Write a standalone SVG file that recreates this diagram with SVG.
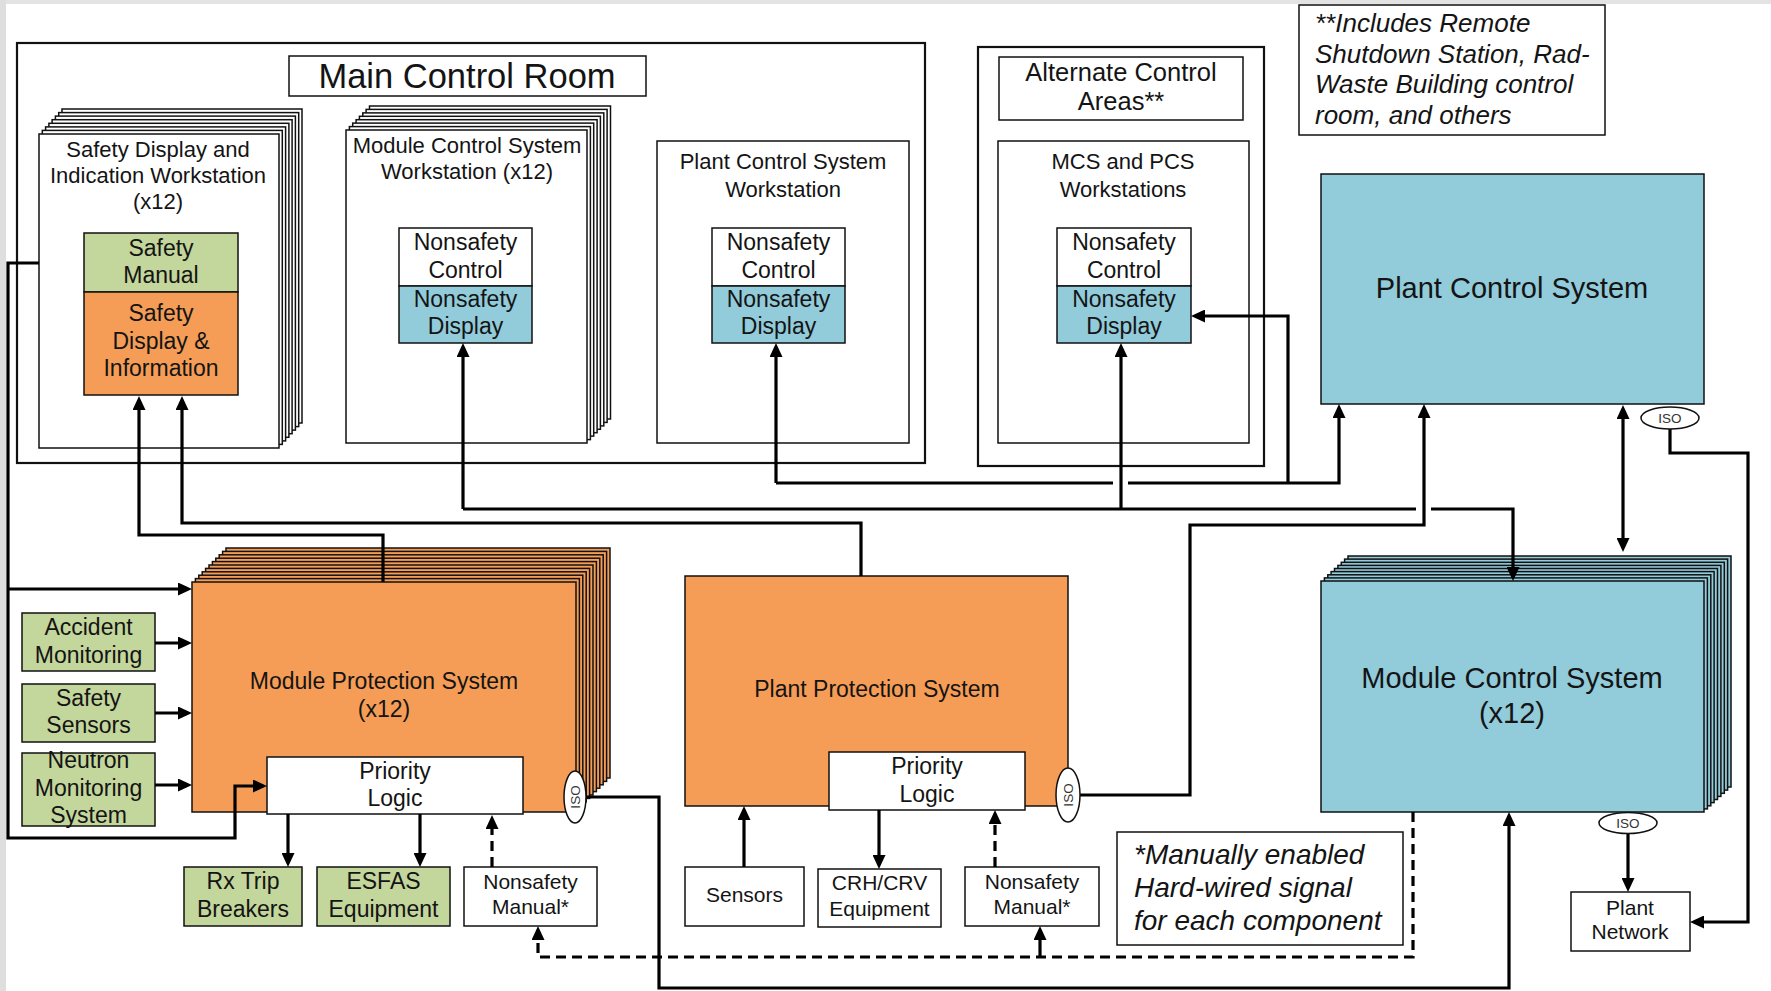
<svg xmlns="http://www.w3.org/2000/svg" width="1771" height="991" viewBox="0 0 1771 991">
<defs>
<style>
text{font-family:"Liberation Sans",Arial,Helvetica,sans-serif;fill:#141414;text-anchor:middle}
.f21{font-size:21px}.f22{font-size:22px}.f23{font-size:23px}.f25{font-size:25.5px}.f29{font-size:29px}.f34{font-size:34.5px}
.it{font-style:italic;text-anchor:start}
.bx{stroke:#111;stroke-width:1.5}
.w{fill:#fff}.g{fill:#c3d69b}.o{fill:#f59d56}.b{fill:#92cbda}
.area{fill:#fff;stroke:#111;stroke-width:2.2}
.ln{fill:none;stroke:#000;stroke-width:3.2}
.dash{stroke-dasharray:10 6}
.iso{fill:#fff;stroke:#111;stroke-width:1.5}
.isot{font-size:13.5px;fill:#333}
</style>
<marker id="ah" viewBox="0 0 14 13" refX="10" refY="6.5" markerWidth="14" markerHeight="13" markerUnits="userSpaceOnUse" orient="auto-start-reverse"><path d="M0,0 L14,6.5 L0,13 z" fill="#000"/></marker>
<rect id="lSws" width="240" height="314" class="bx w"/>
<rect id="lMws" width="241" height="313" class="bx w"/>
<rect id="lMps" width="384" height="230" class="bx o"/>
<rect id="lMcs" width="383" height="231" class="bx b"/>
</defs>
<rect x="0" y="0" width="1771" height="991" fill="#fff"/>
<rect x="0" y="0" width="1771" height="4" fill="#e3e3e3"/>
<rect x="0" y="0" width="6" height="991" fill="#dedede"/>

<g id="main-control-room">
<rect x="17" y="43" width="908" height="420" class="area"/>
<rect x="289" y="56" width="357" height="40" class="bx w"/>
<text x="467" y="88" class="f34">Main Control Room</text>
</g>

<g id="alternate-control-areas">
<rect x="978" y="47" width="286" height="419" class="area"/>
<rect x="999" y="57" width="244" height="63" class="bx w"/>
<text x="1121" y="81" class="f25">Alternate Control<tspan x="1121" dy="29">Areas**</tspan></text>
</g>

<g id="note-includes">
<rect x="1299" y="5" width="306" height="130" class="bx w"/>
<text x="1315" y="32" class="it" font-size="26">**Includes Remote<tspan x="1315" dy="30.5">Shutdown Station, Rad-</tspan><tspan x="1315" dy="30.5">Waste Building control</tspan><tspan x="1315" dy="30.5">room, and others</tspan></text>
</g>

<g id="safety-display-workstation">
<use href="#lSws" x="62" y="109"/><use href="#lSws" x="58.7" y="112.6"/><use href="#lSws" x="55.4" y="116.1"/><use href="#lSws" x="52.1" y="119.7"/><use href="#lSws" x="48.9" y="123.3"/><use href="#lSws" x="45.6" y="126.9"/><use href="#lSws" x="42.3" y="130.4"/><use href="#lSws" x="39" y="134"/>
<text x="158" y="157" class="f22">Safety Display and<tspan x="158" dy="26">Indication Workstation</tspan><tspan x="158" dy="26">(x12)</tspan></text>
<rect x="84" y="233" width="154" height="59" class="bx g"/>
<text x="161" y="256" class="f23">Safety<tspan x="161" dy="27">Manual</tspan></text>
<rect x="84" y="292" width="154" height="103" class="bx o"/>
<text x="161" y="321" class="f23">Safety<tspan x="161" dy="27.5">Display &amp;</tspan><tspan x="161" dy="27.5">Information</tspan></text>
</g>

<g id="mcs-workstation">
<use href="#lMws" x="369.5" y="106"/><use href="#lMws" x="366.1" y="109.4"/><use href="#lMws" x="362.8" y="112.9"/><use href="#lMws" x="359.4" y="116.3"/><use href="#lMws" x="356.1" y="119.7"/><use href="#lMws" x="352.7" y="123.1"/><use href="#lMws" x="349.4" y="126.6"/><use href="#lMws" x="346" y="130"/>
<text x="467" y="153" class="f22">Module Control System<tspan x="467" dy="26">Workstation (x12)</tspan></text>
<rect x="399" y="228" width="133" height="58" class="bx w"/>
<text x="465.5" y="250" class="f23">Nonsafety<tspan x="465.5" dy="28">Control</tspan></text>
<rect x="399" y="286" width="133" height="57" class="bx b"/>
<text x="465.5" y="307" class="f23">Nonsafety<tspan x="465.5" dy="27">Display</tspan></text>
</g>

<g id="pcs-workstation">
<rect x="657" y="141" width="252" height="302" class="bx w"/>
<text x="783" y="169" class="f22">Plant Control System<tspan x="783" dy="28">Workstation</tspan></text>
<rect x="712" y="228" width="133" height="58" class="bx w"/>
<text x="778.5" y="250" class="f23">Nonsafety<tspan x="778.5" dy="28">Control</tspan></text>
<rect x="712" y="286" width="133" height="57" class="bx b"/>
<text x="778.5" y="307" class="f23">Nonsafety<tspan x="778.5" dy="27">Display</tspan></text>
</g>

<g id="mcs-pcs-workstations">
<rect x="998" y="141" width="251" height="302" class="bx w"/>
<text x="1123" y="169" class="f22">MCS and PCS<tspan x="1123" dy="28">Workstations</tspan></text>
<rect x="1057" y="228" width="134" height="58" class="bx w"/>
<text x="1124" y="250" class="f23">Nonsafety<tspan x="1124" dy="28">Control</tspan></text>
<rect x="1057" y="286" width="134" height="57" class="bx b"/>
<text x="1124" y="307" class="f23">Nonsafety<tspan x="1124" dy="27">Display</tspan></text>
</g>

<g id="plant-control-system">
<rect x="1321" y="174" width="383" height="230" class="bx b"/>
<text x="1512" y="298" class="f29">Plant Control System</text>
</g>

<g id="module-protection-system">
<use href="#lMps" x="226" y="548"/><use href="#lMps" x="222.6" y="551.4"/><use href="#lMps" x="219.2" y="554.8"/><use href="#lMps" x="215.8" y="558.2"/><use href="#lMps" x="212.4" y="561.6"/><use href="#lMps" x="209" y="565"/><use href="#lMps" x="205.6" y="568.4"/><use href="#lMps" x="202.2" y="571.8"/><use href="#lMps" x="198.8" y="575.2"/><use href="#lMps" x="195.4" y="578.6"/><use href="#lMps" x="192" y="582"/>
<text x="384" y="689" class="f23">Module Protection System<tspan x="384" dy="28">(x12)</tspan></text>
</g>
<g id="mps-priority-logic">
<rect x="267" y="757" width="256" height="57" class="bx w"/>
<text x="395" y="779" class="f23">Priority<tspan x="395" dy="27">Logic</tspan></text>
</g>

<g id="plant-protection-system">
<rect x="685" y="576" width="383" height="230" class="bx o"/>
<text x="877" y="697" class="f23">Plant Protection System</text>
</g>
<g id="pps-priority-logic">
<rect x="829" y="752" width="196" height="58" class="bx w"/>
<text x="927" y="774" class="f23">Priority<tspan x="927" dy="28">Logic</tspan></text>
</g>

<g id="module-control-system">
<use href="#lMcs" x="1348" y="556"/><use href="#lMcs" x="1344.6" y="559.1"/><use href="#lMcs" x="1341.3" y="562.3"/><use href="#lMcs" x="1337.9" y="565.4"/><use href="#lMcs" x="1334.5" y="568.5"/><use href="#lMcs" x="1331.1" y="571.6"/><use href="#lMcs" x="1327.8" y="574.8"/><use href="#lMcs" x="1324.4" y="577.9"/><use href="#lMcs" x="1321" y="581"/>
<text x="1512" y="688" class="f29">Module Control System<tspan x="1512" dy="35">(x12)</tspan></text>
</g>

<g id="accident-monitoring">
<rect x="22" y="613" width="133" height="58" class="bx g"/>
<text x="88.5" y="635" class="f23">Accident<tspan x="88.5" dy="28">Monitoring</tspan></text>
</g>
<g id="safety-sensors">
<rect x="22" y="684" width="133" height="58" class="bx g"/>
<text x="88.5" y="706" class="f23">Safety<tspan x="88.5" dy="27">Sensors</tspan></text>
</g>
<g id="neutron-monitoring">
<rect x="22" y="753" width="133" height="73" class="bx g"/>
<text x="88.5" y="768" class="f23">Neutron<tspan x="88.5" dy="27.5">Monitoring</tspan><tspan x="88.5" dy="27.5">System</tspan></text>
</g>

<g id="rx-trip-breakers">
<rect x="184" y="867" width="118" height="59" class="bx g"/>
<text x="243" y="889" class="f23">Rx Trip<tspan x="243" dy="28">Breakers</tspan></text>
</g>
<g id="esfas-equipment">
<rect x="317" y="867" width="133" height="59" class="bx g"/>
<text x="383.5" y="889" class="f23">ESFAS<tspan x="383.5" dy="28">Equipment</tspan></text>
</g>
<g id="mps-nonsafety-manual">
<rect x="464" y="867" width="133" height="59" class="bx w"/>
<text x="530.5" y="889" class="f21">Nonsafety<tspan x="530.5" dy="25">Manual*</tspan></text>
</g>
<g id="sensors">
<rect x="685" y="867" width="119" height="59" class="bx w"/>
<text x="744.5" y="902" class="f21">Sensors</text>
</g>
<g id="crh-crv-equipment">
<rect x="818" y="869" width="123" height="58" class="bx w"/>
<text x="879.5" y="890" class="f21">CRH/CRV<tspan x="879.5" dy="26">Equipment</tspan></text>
</g>
<g id="pps-nonsafety-manual">
<rect x="965" y="867" width="134" height="59" class="bx w"/>
<text x="1032" y="889" class="f21">Nonsafety<tspan x="1032" dy="25">Manual*</tspan></text>
</g>
<g id="note-manual">
<rect x="1117" y="832" width="286" height="113" class="bx w"/>
<text x="1134" y="864" class="it" font-size="28">*Manually enabled<tspan x="1134" dy="33">Hard-wired signal</tspan><tspan x="1134" dy="33">for each component</tspan></text>
</g>
<g id="plant-network">
<rect x="1571" y="892" width="119" height="59" class="bx w"/>
<text x="1630" y="915" class="f21">Plant<tspan x="1630" dy="24">Network</tspan></text>
</g>

<g id="connectors">
<path class="ln" d="M39,263 H8 V838 H235 V786 H263" marker-end="url(#ah)"/>
<path class="ln" d="M8,589 H188" marker-end="url(#ah)"/>
<path class="ln" d="M383,582 V535 H139 V400" marker-end="url(#ah)"/>
<path class="ln" d="M861,576 V523 H182 V400" marker-end="url(#ah)"/>
<path class="ln" d="M463,509 V347" marker-end="url(#ah)"/>
<path class="ln" d="M463,509 H1416"/>
<path class="ln" d="M1431,509 H1513 V577" marker-end="url(#ah)"/>
<path class="ln" d="M1121,509 V347" marker-end="url(#ah)"/>
<path class="ln" d="M776,483 V347" marker-end="url(#ah)"/>
<path class="ln" d="M776,483 H1113"/>
<path class="ln" d="M1128,483 H1339 V408" marker-end="url(#ah)"/>
<path class="ln" d="M1288,483 V316 H1195" marker-end="url(#ah)"/>
<path class="ln" d="M1080,795 H1190 V525 H1424 V408" marker-end="url(#ah)"/>
<path class="ln" d="M1623,409 V548" marker-start="url(#ah)" marker-end="url(#ah)"/>
<path class="ln" d="M1670,428 V453 H1748 V922 H1694" marker-end="url(#ah)"/>
<path class="ln" d="M1628,833 V888" marker-end="url(#ah)"/>
<path class="ln" d="M586,797 H659 V988 H1509 V816" marker-end="url(#ah)"/>
<path class="ln dash" d="M1413,812 V957 H538 V930" marker-end="url(#ah)"/>
<path class="ln" d="M1040,957 V930" marker-end="url(#ah)"/>
<path class="ln" d="M155,643 H188" marker-end="url(#ah)"/>
<path class="ln" d="M155,713 H188" marker-end="url(#ah)"/>
<path class="ln" d="M155,785 H188" marker-end="url(#ah)"/>
<path class="ln" d="M288,814 V863" marker-end="url(#ah)"/>
<path class="ln" d="M420,814 V863" marker-end="url(#ah)"/>
<path class="ln dash" d="M492,867 V819" marker-end="url(#ah)"/>
<path class="ln" d="M744,867 V810" marker-end="url(#ah)"/>
<path class="ln" d="M879,810 V865" marker-end="url(#ah)"/>
<path class="ln dash" d="M995,867 V814" marker-end="url(#ah)"/>
</g>

<g id="iso-pcs">
<ellipse cx="1670" cy="418" rx="29" ry="11" class="iso"/>
<text x="1670" y="423" class="isot">ISO</text>
</g>
<g id="iso-mcs">
<ellipse cx="1628" cy="823" rx="29" ry="10.5" class="iso"/>
<text x="1628" y="828" class="isot">ISO</text>
</g>
<g id="iso-mps">
<ellipse cx="575" cy="797" rx="11" ry="26" class="iso"/>
<text x="0" y="0" class="isot" transform="translate(580,797) rotate(-90)">ISO</text>
</g>
<g id="iso-pps">
<ellipse cx="1068" cy="795" rx="12" ry="27" class="iso"/>
<text x="0" y="0" class="isot" transform="translate(1073,795) rotate(-90)">ISO</text>
</g>
</svg>
